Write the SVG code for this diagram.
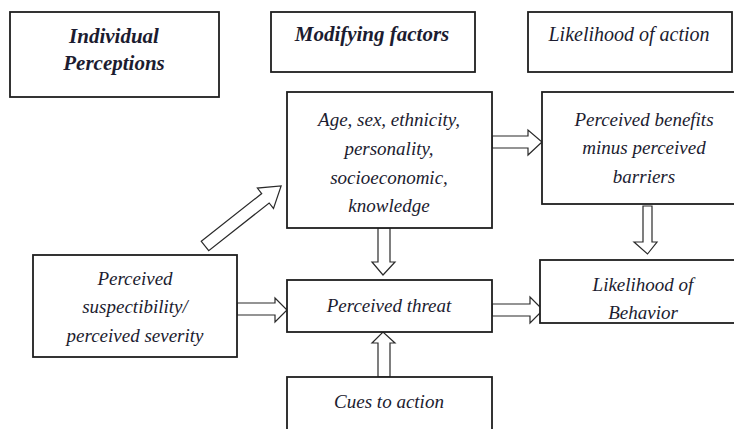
<svg xmlns="http://www.w3.org/2000/svg" width="734" height="429" viewBox="0 0 734 429">
<style>
.box{fill:#fff;stroke:#1e1e1e;stroke-width:1.8}
.t{font-family:'Liberation Serif','DejaVu Serif',serif;font-style:italic;font-size:19px;fill:#1c1c30;text-anchor:middle}
.h{font-size:21px;font-weight:bold}
.h2{font-size:20px}
.arr{fill:#fff;stroke:#2a2a2a;stroke-width:1.2;stroke-linejoin:miter}
</style>
<rect width="734" height="429" fill="#fff"/>
<g id="connectors">
<polygon class="arr" transform="translate(205,246) rotate(-38.3)" points="0,-6 77,-6 77,-13 97,0 77,13 77,6 0,6"/>
<polygon class="arr" points="237,303 275,303 275,298 287,310 275,322 275,315 237,315"/>
<polygon class="arr" points="492,136 528,136 528,130 542,142 528,155 528,148 492,148"/>
<polygon class="arr" points="492,304 530,304 530,297 543,310 530,323 530,316 492,316"/>
<polygon class="arr" points="378,228 390,228 390,262 395,262 383,275 372,262 378,262"/>
<polygon class="arr" points="378,377 390,377 390,343 395,343 383,332 372,343 378,343"/>
<polygon class="arr" points="643,206 652,206 652,242 657,242 647.5,254 634,242 643,242"/>
</g>
<g id="individual-perceptions">
<rect class="box" x="10" y="12" width="209" height="85"/>
<text class="t h" x="114" y="43">Individual</text>
<text class="t h" x="114" y="70">Perceptions</text>
</g>
<g id="modifying-factors">
<rect class="box" x="271" y="12" width="204" height="60"/>
<text class="t h" x="372" y="41">Modifying factors</text>
</g>
<g id="likelihood-of-action">
<rect class="box" x="528" y="12" width="204" height="60"/>
<text class="t h2" x="629" y="41">Likelihood of action</text>
</g>
<g id="demographics">
<rect class="box" x="287" y="92" width="205" height="136"/>
<text class="t" x="389" y="126">Age, sex, ethnicity,</text>
<text class="t" x="389" y="155">personality,</text>
<text class="t" x="389" y="184">socioeconomic,</text>
<text class="t" x="389" y="212">knowledge</text>
</g>
<g id="benefits-barriers">
<rect class="box" x="542" y="92" width="200" height="112"/>
<text class="t" x="644" y="126">Perceived benefits</text>
<text class="t" x="644" y="154">minus perceived</text>
<text class="t" x="644" y="183">barriers</text>
</g>
<g id="likelihood-behavior">
<rect class="box" x="540" y="260" width="202" height="63"/>
<text class="t" x="643" y="291">Likelihood of</text>
<text class="t" x="643" y="319">Behavior</text>
</g>
<g id="susceptibility-severity">
<rect class="box" x="33" y="255" width="204" height="102"/>
<text class="t" x="135" y="285">Perceived</text>
<text class="t" x="135" y="313">suspectibility/</text>
<text class="t" x="135" y="342">perceived severity</text>
</g>
<g id="perceived-threat">
<rect class="box" x="287" y="280" width="205" height="52"/>
<text class="t" x="389" y="312">Perceived threat</text>
</g>
<g id="cues-to-action">
<rect class="box" x="287" y="377" width="205" height="60"/>
<text class="t" x="389" y="408">Cues to action</text>
</g>
</svg>
